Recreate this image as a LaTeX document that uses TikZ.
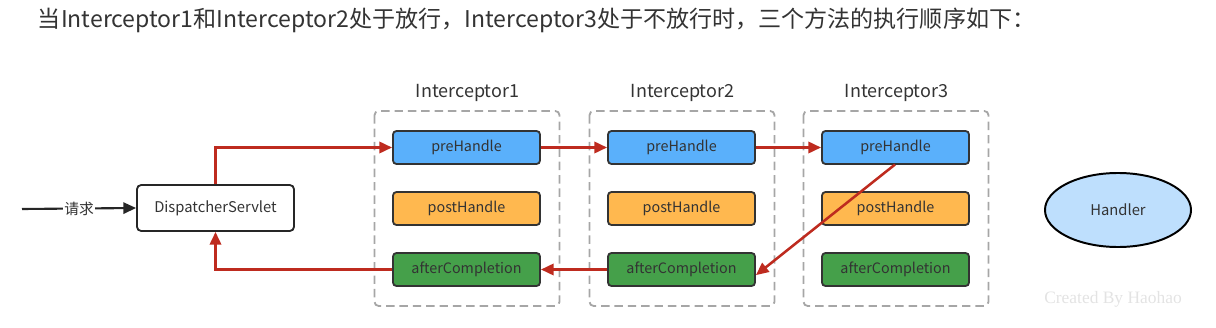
\documentclass[tikz,border=0pt]{standalone}
\usepackage{fontspec}
\setmainfont{Noto Sans CJK SC}
\newfontfamily\zeichen{Noto Sans CJK SC}
\newfontfamily\serifschrift{Liberation Serif}
\usetikzlibrary{arrows.meta, shapes.geometric}

\definecolor{pfeilrot}{HTML}{BE2B1F}
\definecolor{preblau}{HTML}{5AB0FB}
\definecolor{postorange}{HTML}{FFB84F}
\definecolor{aftergruen}{HTML}{45A04A}
\definecolor{handlerblau}{HTML}{BEDFFD}

\begin{document}
\begin{tikzpicture}[x=0.025cm, y=-0.025cm]

    \useasboundingbox (0,0) rectangle (1216,328);

    % --- 1. Ueberschrift ---
    \node[anchor=west, font=\zeichen\fontsize{16.4}{19}\selectfont, text=black!80] (txt-titel) at (33,20)
        {当Interceptor1和Interceptor2处于放行，Interceptor3处于不放行时，三个方法的执行顺序如下：};

    % --- 2. Stile ---
    \tikzset{methode/.style={draw=black!80, line width=1.3pt, rounded corners=2.5pt,
                             minimum width=3.675cm, minimum height=0.825cm,
                             font=\fontsize{10.2}{11}\selectfont, text=black!80}}
    \tikzset{rahmen/.style={draw=gray!70, dashed, dash pattern=on 6pt off 3.5pt, line width=1.3pt, rounded corners=3pt}}
    \tikzset{rotpfeil/.style={draw=pfeilrot, line width=1.8pt, -{Triangle[length=9pt, width=8pt]}}}

    % --- 3. DispatcherServlet und Handler ---
    \node[draw=black!85, line width=1.3pt, rounded corners=3pt, minimum width=3.925cm, minimum height=1.15cm,
          font=\fontsize{10.5}{12}\selectfont, text=black!80] (servlet) at (215.5,208) {DispatcherServlet};
    \node[ellipse, draw=black, line width=1.4pt, fill=handlerblau, minimum width=3.65cm, minimum height=1.85cm,
          font=\fontsize{10.5}{12}\selectfont, text=black!80] (handler) at (1118,210) {Handler};

    % --- 4. Interceptoren mit ihren drei Methoden ---
    \foreach \i/\x in {1/466.5, 2/681.5, 3/895.5} {
        \draw[rahmen] (\x-92,111) rectangle (\x+93,306);
        \node[font=\fontsize{12.8}{14}\selectfont, text=black!80] (txt-inter-\i) at (\x+1,93) {Interceptor\i};
        \node[methode, fill=preblau] (pre-\i) at (\x,147.5) {preHandle};
        \node[methode, fill=postorange] (post-\i) at (\x,208.5) {postHandle};
        \node[methode, fill=aftergruen] (after-\i) at (\x,269.5) {afterCompletion};
    }

    % --- 5. Anfrage ---
    \coordinate (anfang) at (22,209);
    \draw[black!85, line width=1.5pt, -{Triangle[length=9pt, width=8pt]}] (anfang) -- (servlet.west)
        node[pos=0.5, fill=white, inner sep=1pt, font=\zeichen\fontsize{10.5}{12}\selectfont, text=black!80] (txt-anfrage) {请求};

    % --- 6. Ablauf (rote Pfeile) ---
    \draw[rotpfeil] (servlet.north) |- (pre-1.west);
    \draw[rotpfeil] (pre-1.east) -- (pre-2.west);
    \draw[rotpfeil] (pre-2.east) -- (pre-3.west);
    \coordinate (abbruch) at (895,164.5);
    \draw[rotpfeil] (abbruch) -- ([yshift=-4]after-2.east);
    \draw[rotpfeil] (after-2.west) -- (after-1.east);
    \draw[rotpfeil] (after-1.west) -| (servlet.south);

    % --- 7. Wasserzeichen ---
    \node[font=\serifschrift\fontsize{12.4}{14}\selectfont, text=gray!22] (txt-wasserzeichen) at (1113,299) {Created By Haohao};

\end{tikzpicture}
\end{document}
